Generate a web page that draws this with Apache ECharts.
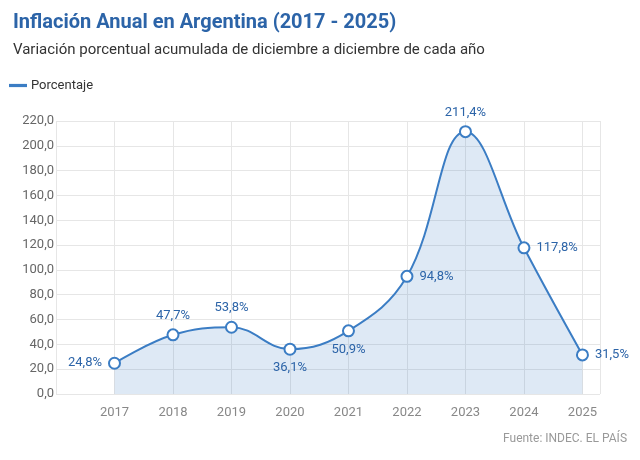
<!DOCTYPE html>
<html><head><meta charset="utf-8">
<script src="https://cdn.jsdelivr.net/npm/echarts@6/dist/echarts.min.js"></script>
<style>html,body{margin:0;background:#fff}#c{width:640px;height:460px}</style>
</head><body><div id="c"></div>
<script>
var years = [2017, 2018, 2019, 2020, 2021, 2022, 2023, 2024, 2025];
var values = [24.8, 47.7, 53.8, 36.1, 50.9, 94.8, 211.4, 117.8, 31.5];
var labelPos = ['left', 'top', 'top', 'bottom', 'bottom', 'right', 'top', 'right', 'right'];

var fmt = function (v, d) { return v.toFixed(d).replace('.', ','); };
var blue = '#3b7dc4';
var chart = echarts.init(document.getElementById('c'));
chart.setOption({
    textStyle: { fontFamily: 'Roboto' },
    title: [
        { text: 'Inflación Anual en Argentina (2017 - 2025)', left: 8, top: 8,
          textStyle: { color: '#2c64a8', fontSize: 20, fontWeight: 'bold' } },
        { text: 'Variación porcentual acumulada de diciembre a diciembre de cada año', left: 8, top: 38,
          textStyle: { color: '#333', fontSize: 15, fontWeight: 'normal' } },
        { text: 'Fuente: INDEC. EL PAÍS', right: 8, bottom: 10,
          textStyle: { color: '#999', fontSize: 12, fontWeight: 'normal' } }
    ],
    legend: { left: 4, top: 74, icon: 'path://M0,0H20V1.5H0Z', itemWidth: 16, itemHeight: 2,
        textStyle: { color: '#333', fontSize: 13 }, data: ['Porcentaje'] },
    grid: { left: 56, right: 40, top: 121, bottom: 66 },
    xAxis: {
        type: 'value', min: 2016, max: 2025.3, interval: 1,
        axisLine: { show: false }, axisTick: { show: false },
        splitLine: { show: true, lineStyle: { color: '#e6e6e6' } },
        axisLabel: { color: '#888', fontSize: 13, margin: 12,
            formatter: function (v) { return v >= 2017 && v <= 2025 ? String(v) : ''; } }
    },
    yAxis: {
        type: 'value', min: 0, max: 220, interval: 20,
        axisLine: { show: false }, axisTick: { show: false },
        splitLine: { lineStyle: { color: '#e6e6e6' } },
        axisLabel: { color: '#666', fontSize: 13, margin: 2, formatter: function (v) { return fmt(v, 1); } }
    },
    series: [{
        name: 'Porcentaje', type: 'line', smooth: 0.4,
        data: years.map(function (y, i) {
            return { value: [y, values[i]], label: { position: labelPos[i] } };
        }),
        symbol: 'circle', symbolSize: 11,
        itemStyle: { color: '#fff', borderColor: blue, borderWidth: 2 },
        lineStyle: { color: blue, width: 2 },
        areaStyle: { color: 'rgba(59,125,196,0.24)' },
        label: { show: true, color: '#2c64a8', fontSize: 13, distance: 6,
            formatter: function (p) { return fmt(p.value[1], 1) + '%'; } }
    }]
});
</script></body></html>
